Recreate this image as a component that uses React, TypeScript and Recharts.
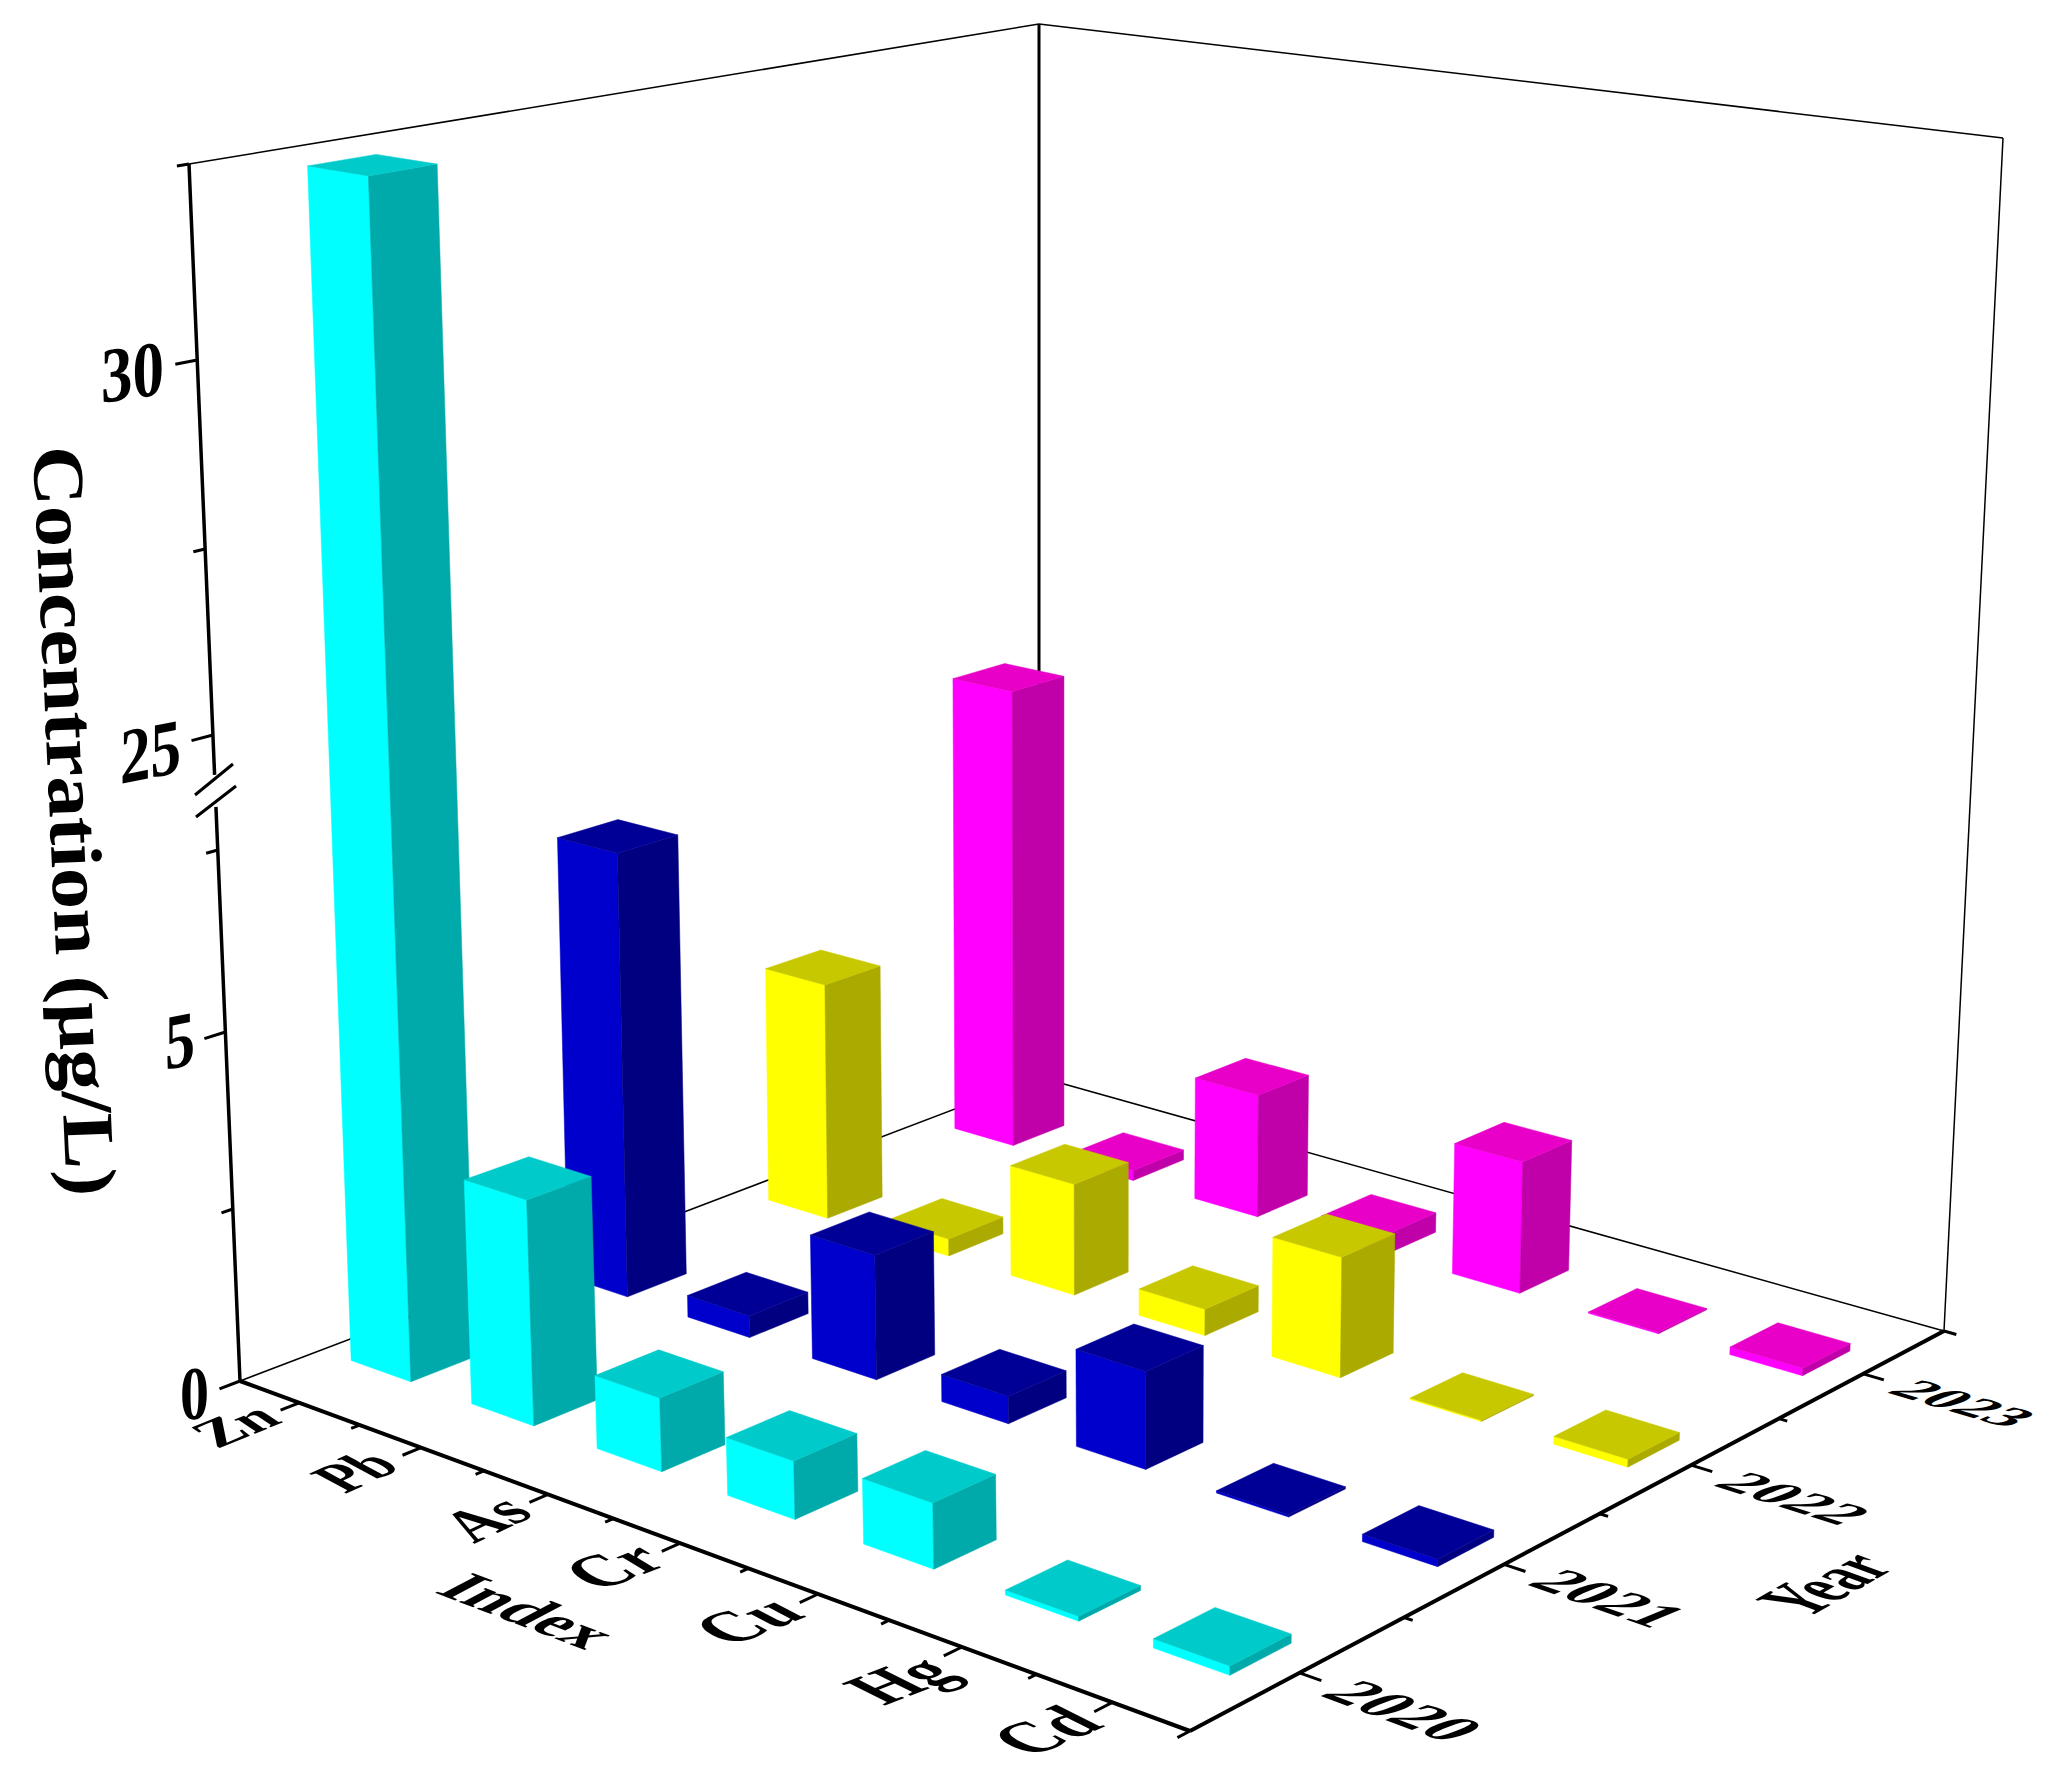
import React from "react";
import { ScatterChart, Scatter, XAxis, YAxis } from "recharts";

const indexNames = ["Zn", "Pb", "As", "Cr", "Cu", "Hg", "Cd"];
const years = ["2020", "2021", "2022", "2023"];
const conc2020 = [32.35, 3.2, 1.03, 0.8, 0.89, 0.065, 0.12];
const conc2021 = [6.53, 0.32, 1.81, 0.39, 1.37, 0.03, 0.1];
const conc2022 = [3.62, 0.26, 1.67, 0.39, 1.75, 0.02, 0.11];
const conc2023 = [7.16, 0.16, 1.9, 0.3, 1.98, 0.02, 0.11];
const concByYear = [conc2020, conc2021, conc2022, conc2023];

// broken value axis: tick values and how far up the left edge each one sits
const valueTicks = [0, 2.5, 5, 7.5, 25, 27.5, 30, 32.5];
const tickHeights = [0, 172, 349, 531, 646, 832, 1021, 1217];
const valueTickLabels = [
  { text: "0", x: 180, y: 1420, ex: 209, ey: 1418, upx: 0, upy: -50 },
  { text: "5", x: 165, y: 1070, ex: 195, ey: 1064, upx: 0, upy: -52 },
  { text: "25", x: 120, y: 784, ex: 181, ey: 772, upx: 0, upy: -52 },
  { text: "30", x: 101, y: 403, ex: 164, ey: 394, upx: 0, upy: -52 },
];

const facePalette = [
  { front: "#00FFFF", side: "#00AAAA", top: "#00CACA" },
  { front: "#0000CC", side: "#000080", top: "#000096" },
  { front: "#FFFF00", side: "#AAAA00", top: "#C8C800" },
  { front: "#FF00FF", side: "#C000A8", top: "#E800C8" },
];

const floorCorners = [[240, 1381], [1190, 1731], [1944, 1331], [1039, 1077]];
const ceilingCorners = [[189, 164], [1190, 332], [2003, 138], [1039, 24]];

const quadMap = (q: number[][]) => {
  const [[x0, y0], [x1, y1], [x2, y2], [x3, y3]] = q;
  const sx = x0 - x1 + x2 - x3;
  const sy = y0 - y1 + y2 - y3;
  const dx1 = x1 - x2;
  const dx2 = x3 - x2;
  const dy1 = y1 - y2;
  const dy2 = y3 - y2;
  const den = dx1 * dy2 - dx2 * dy1;
  const g = (sx * dy2 - dx2 * sy) / den;
  const h = (dx1 * sy - sx * dy1) / den;
  return (s: number, t: number) => {
    const k = g * s + h * t + 1;
    return {
      x: ((x1 - x0 + g * x1) * s + (x3 - x0 + h * x3) * t + x0) / k,
      y: ((y1 - y0 + g * y1) * s + (y3 - y0 + h * y3) * t + y0) / k,
    };
  };
};
const floorAt = quadMap(floorCorners);
const ceilingAt = quadMap(ceilingCorners);

const project = (s: number, t: number, w: number) => {
  const a = floorAt(s, t);
  const b = ceilingAt(s, t);
  return { x: a.x + (b.x - a.x) * w, y: a.y + (b.y - a.y) * w };
};

const heightOf = (v: number) => {
  let k = 0;
  while (k < valueTicks.length - 2 && v > valueTicks[k + 1]) k++;
  const f = (v - valueTicks[k]) / (valueTicks[k + 1] - valueTicks[k]);
  return (tickHeights[k] + f * (tickHeights[k + 1] - tickHeights[k])) / 1217;
};

const BAR_S = 0.25 / 7;
const BAR_T = 0.143 / 4;

const barRows = concByYear.map((values, j) =>
  values.map((value, i) => {
    const s = (i + 0.5) / 7;
    const t = (j + 0.5) / 4;
    const anchor = project(s, t, 0);
    return { name: indexNames[i], year: years[j], value, s, t, j, x: anchor.x, y: anchor.y };
  })
);

const Bar3D = (props: any) => {
  const { cx, cy, payload } = props;
  const { s, t, j, value, x, y } = payload;
  const w = heightOf(value);
  const pts = (list: number[][]) =>
    list
      .map(([a, b, c]) => {
        const p = project(a, b, c);
        return `${cx + p.x - x},${cy + p.y - y}`;
      })
      .join(" ");
  const s0 = s - BAR_S;
  const s1 = s + BAR_S;
  const t0 = t - BAR_T;
  const t1 = t + BAR_T;
  const c = facePalette[j];
  return (
    <g>
      <polygon fill={c.front} stroke={c.front} strokeWidth={0.5} points={pts([[s0, t0, 0], [s1, t0, 0], [s1, t0, w], [s0, t0, w]])} />
      <polygon fill={c.side} stroke={c.side} strokeWidth={0.5} points={pts([[s1, t0, 0], [s1, t1, 0], [s1, t1, w], [s1, t0, w]])} />
      <polygon fill={c.top} stroke={c.top} strokeWidth={0.5} points={pts([[s0, t0, w], [s1, t0, w], [s1, t1, w], [s0, t1, w]])} />
    </g>
  );
};

type Pt = { x: number; y: number };
const edge = (a: Pt, b: Pt, width: number) => ({ x: a.x, y: a.y, x2: b.x, y2: b.y, width });

const thinEdges = [
  edge(project(0, 0, 1), project(0, 1, 1), 1.5),
  edge(project(0, 1, 1), project(1, 1, 1), 1.5),
  edge(project(0, 1, 0), project(0, 1, 1), 3),
  edge(project(1, 1, 0), project(1, 1, 1), 1.5),
  edge(project(0, 0, 0), project(0, 1, 0), 1.5),
  edge(project(0, 1, 0), project(1, 1, 0), 1.5),
];

const axisEdges = [
  edge(project(0, 0, 0), project(0, 0, 0.4717), 3.5),
  edge(project(0, 0, 0.498), project(0, 0, 1), 3.5),
  edge(project(0, 0, 0), project(1, 0, 0), 4),
  edge(project(1, 0, 0), project(1, 1, 0), 4),
  edge({ x: 195, y: 795 }, { x: 233, y: 764 }, 3),
  edge({ x: 196, y: 817 }, { x: 236, y: 786 }, 3),
  ...tickHeights.map((h, k) =>
    edge(project(0, 0, h / 1217), project(0, k % 2 === 0 ? -0.022 : -0.012, h / 1217), 3)
  ),
  ...indexNames.map((_, i) => edge(project((i + 0.5) / 7, 0, 0), project((i + 0.5) / 7, -0.02, 0), 3)),
  ...indexNames.slice(1).map((_, i) => edge(project((i + 1) / 7, 0, 0), project((i + 1) / 7, -0.009, 0), 3)),
  ...years.map((_, j) => edge(project(1, (j + 0.5) / 4, 0), project(1.02, (j + 0.5) / 4, 0), 3)),
  ...years.slice(1).map((_, j) => edge(project(1, (j + 1) / 4, 0), project(1.008, (j + 1) / 4, 0), 3)),
  edge(project(1, 0, 0), project(1, -0.014, 0), 3),
  edge(project(1, 1, 0), project(1.012, 1, 0), 3),
];

const FrameLine = (props: any) => {
  const { cx, cy, payload } = props;
  return (
    <line
      x1={cx}
      y1={cy}
      x2={cx + payload.x2 - payload.x}
      y2={cy + payload.y2 - payload.y}
      stroke="#000"
      strokeWidth={payload.width}
    />
  );
};

// labels lie on the floor and wall planes, so each one carries its baseline and its up vector
const indexLabelPlaces = [
  { x: 217, y: 1449, ex: 284, ey: 1422, upx: -30, upy: -20 },
  { x: 345, y: 1494, ex: 403, ey: 1468, upx: -37, upy: -20 },
  { x: 474, y: 1544, ex: 536, ey: 1515, upx: -38, upy: -22 },
  { x: 598, y: 1592, ex: 670, ey: 1564, upx: -40, upy: -24 },
  { x: 730, y: 1647, ex: 808, ey: 1616, upx: -42, upy: -22 },
  { x: 884, y: 1706, ex: 961, ey: 1676, upx: -44, upy: -22 },
  { x: 1030, y: 1758, ex: 1106, ey: 1726, upx: -44, upy: -22 },
];
const yearLabelPlaces = [
  { x: 1318, y: 1695, ex: 1447, ey: 1743, upx: 42, upy: -16 },
  { x: 1525, y: 1584, ex: 1653, ey: 1629, upx: 39, upy: -16 },
  { x: 1711, y: 1485, ex: 1840, ey: 1526, upx: 36, upy: -14 },
  { x: 1885, y: 1392, ex: 2007, ey: 1428, upx: 34, upy: -13 },
];

const labelRows = [
  ...valueTickLabels,
  ...indexNames.map((text, i) => ({ text, ...indexLabelPlaces[i] })),
  ...years.map((text, j) => ({ text, ...yearLabelPlaces[j] })),
  { text: "Index", x: 433, y: 1592, ex: 585, ey: 1650, upx: 38, upy: -20 },
  { text: "Year", x: 1806, y: 1619, ex: 1896, ey: 1568, upx: -52, upy: -19 },
  { text: "Concentration (μg/L)", x: 33, y: 447, ex: 67, ey: 1197, upx: 48, upy: -2 },
];

const FONT = 40;
const PlaneLabel = (props: any) => {
  const { cx, cy, payload } = props;
  const { text, x, y, ex, ey, upx, upy } = payload;
  const len = Math.hypot(ex - x, ey - y);
  const ux = (ex - x) / len;
  const uy = (ey - y) / len;
  const cap = 0.66 * FONT;
  return (
    <text
      transform={`matrix(${ux} ${uy} ${-upx / cap} ${-upy / cap} ${cx} ${cy})`}
      fontFamily="'Liberation Serif', serif"
      fontWeight="bold"
      fontSize={FONT}
      textLength={len}
      lengthAdjust="spacingAndGlyphs"
      fill="#000"
    >
      {text}
    </text>
  );
};

const App = () => (
  <div style={{ position: "absolute", left: 0, top: 0, width: 2062, height: 1790, background: "#fff" }}>
    <ScatterChart width={2062} height={1790} margin={{ top: 0, right: 0, bottom: 0, left: 0 }}>
      <XAxis type="number" dataKey="x" domain={[0, 2062]} hide />
      <YAxis type="number" dataKey="y" domain={[0, 1790]} reversed hide />
      <Scatter data={thinEdges} shape={FrameLine} isAnimationActive={false} />
      {[3, 2, 1, 0].map((j) => (
        <Scatter key={years[j]} name={years[j]} data={barRows[j]} shape={Bar3D} isAnimationActive={false} />
      ))}
      <Scatter data={axisEdges} shape={FrameLine} isAnimationActive={false} />
      <Scatter data={labelRows} shape={PlaneLabel} isAnimationActive={false} />
    </ScatterChart>
  </div>
);

export default App;
